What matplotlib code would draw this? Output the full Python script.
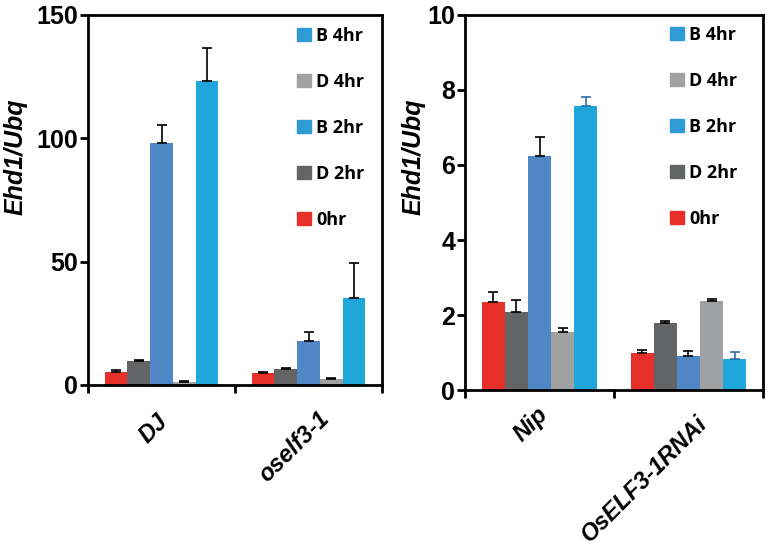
import matplotlib.pyplot as plt
import numpy as np

# Series (order left to right inside each group)
series = ['0hr', 'D 2hr', 'B 2hr', 'D 4hr', 'B 4hr']
colors = ['#E8302A', '#636466', '#4F86C6', '#A0A1A3', '#1FA7DC']
legend_colors = ['#E8302A', '#636466', '#2E9BD6', '#A0A1A3', '#2E9BD6']

# Left panel: DJ vs oself3-1
left_groups = ['DJ', 'oself3-1']
left_means = [[5.3, 5.0],      # 0hr
              [9.9, 6.4],      # D 2hr
              [98.3, 18.0],    # B 2hr
              [1.3, 2.4],      # D 4hr
              [123.2, 35.1]]   # B 4hr
left_errs = [[0.6, 0.3],
             [0.4, 0.3],
             [7.0, 3.4],
             [0.3, 0.6],
             [13.3, 14.4]]

# Right panel: Nip vs OsELF3-1RNAi
right_groups = ['Nip', 'OsELF3-1RNAi']
right_means = [[2.34, 0.99],
               [2.07, 1.78],
               [6.23, 0.90],
               [1.55, 2.38],
               [7.56, 0.83]]
right_errs = [[0.28, 0.09],
              [0.33, 0.07],
              [0.52, 0.14],
              [0.10, 0.04],
              [0.26, 0.18]]

plt.rcParams['font.family'] = ['Liberation Sans', 'DejaVu Sans']

fig = plt.figure(figsize=(7.7, 5.59), dpi=100)
ax1 = fig.add_axes([0.1143, 0.3113, 0.3818, 0.6619])
ax2 = fig.add_axes([0.6039, 0.3023, 0.3870, 0.6709])

width = 0.155
px = 72 / 100  # pixels -> points


def draw_panel(ax, groups, means, errs, ymax, yticks, err_colors,
               label_shift, ylabel_xy, legend_xy):
    x = np.arange(len(groups))
    handles = []
    for i, name in enumerate(series):
        pos = x + (i - 2) * width
        ax.bar(pos, means[i], width, color=colors[i], label=name, zorder=2)
        ax.errorbar(pos, means[i], yerr=[np.zeros(len(groups)), errs[i]],
                    fmt='none', ecolor=err_colors[i], elinewidth=1.2, capsize=3.5,
                    capthick=1.2, zorder=3)
        handles.append(plt.Rectangle((0, 0), 1, 1, color=legend_colors[i]))
    ax.set_xlim(-0.5, len(groups) - 0.5)
    ax.set_ylim(0, ymax)
    ax.set_yticks(yticks)
    ax.set_yticklabels([str(t) for t in yticks], fontsize=18, fontweight='bold')
    ax.set_xticks([])
    ax.set_xticks(np.arange(len(groups) + 1) - 0.5, minor=True)
    ax.tick_params(axis='x', which='minor', length=6, width=2, direction='out')
    ax.tick_params(axis='y', length=6, width=2, direction='out', pad=1)
    for s in ax.spines.values():
        s.set_linewidth(2)
    # rotated category labels
    for xi, name, (dx, dy) in zip(x, groups, label_shift):
        ax.annotate(name, xy=(xi, 0), xycoords=('data', 'axes fraction'),
                    xytext=(dx * px, -dy * px), textcoords='offset points',
                    rotation=45, rotation_mode='anchor', ha='right', va='center',
                    fontsize=17, fontweight='bold', fontstyle='italic')
    ax.set_ylabel('Ehd1/Ubq', fontsize=18, fontweight='bold', fontstyle='italic')
    ax.yaxis.set_label_coords(*ylabel_xy)
    leg = ax.legend(handles[::-1], series[::-1], loc='upper left',
                    frameon=False, fontsize=13, handlelength=0.8,
                    handleheight=0.8, handletextpad=0.25, labelspacing=1.55,
                    borderpad=0, borderaxespad=0, bbox_to_anchor=legend_xy)
    for t in leg.get_texts():
        t.set_fontweight('bold')
        t.set_family(['Open Sans', 'DejaVu Sans'])


draw_panel(ax1, left_groups, left_means, left_errs, 150, [0, 50, 100, 150],
           ['black'] * 5, [(2.5, 33), (17, 30)], (-0.204, 0.616),
           (0.711, 0.968))
draw_panel(ax2, right_groups, right_means, right_errs, 10, [0, 2, 4, 6, 8, 10],
           ['black', 'black', 'black', 'black', '#2B6FA8'],
           [(5, 21), (15, 30)], (-0.134, 0.621), (0.688, 0.971))

fig.savefig('out.png', dpi=100)
